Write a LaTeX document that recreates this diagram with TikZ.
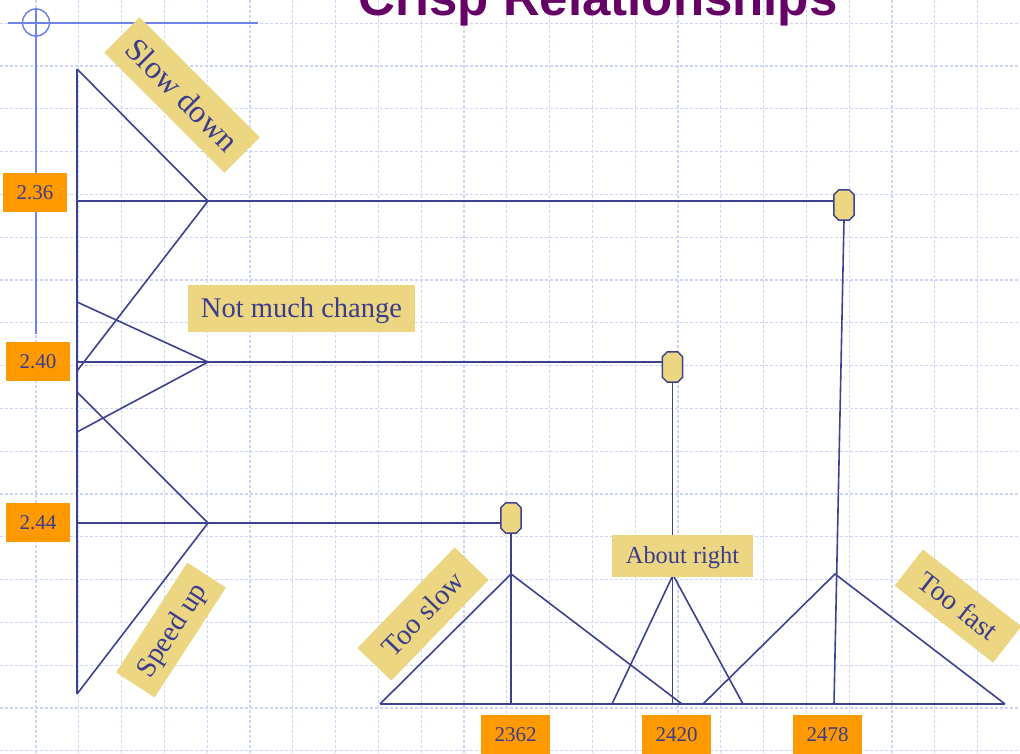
\documentclass[tikz,border=0pt]{standalone}
\usepackage{fontspec}
\setmainfont{Liberation Serif}
\newfontfamily\headfont{Liberation Sans}

\definecolor{gridblue}{RGB}{205,214,250}
\definecolor{crossblue}{RGB}{110,130,240}
\definecolor{lineblue}{RGB}{60,66,145}
\definecolor{textblue}{RGB}{60,60,140}
\definecolor{tagyellow}{RGB}{236,214,130}
\definecolor{valorange}{RGB}{255,153,0}
\definecolor{headpurple}{RGB}{102,0,102}

\begin{document}
\begin{tikzpicture}[
  x=1pt,y=-1pt,
  gridline/.style={draw=gridblue,line width=1.3pt,dash pattern=on 3pt off 2pt},
  crossline/.style={draw=crossblue,line width=1.7pt},
  axisline/.style={draw=lineblue,line width=2pt},
  mf/.style={draw=lineblue,line width=1.6pt},
  tag/.style={fill=tagyellow,text=textblue,inner sep=0pt,minimum height=47pt,
    text height=18.8pt,text depth=0pt,font=\fontsize{28.5}{30}\selectfont},
  valbox/.style={fill=valorange,text=textblue,inner sep=0pt,minimum width=64pt,
    minimum height=39pt,text height=13.9pt,text depth=0pt,font=\fontsize{21}{23}\selectfont},
  joint/.style={inner sep=0pt,minimum width=20pt,minimum height=30pt},
  jointline/.style={draw=lineblue,line width=1.5pt,fill=tagyellow}
]
  \useasboundingbox (0,0) rectangle (1020,753);
  \clip (0,0) rectangle (1020,753);

  % background grid
  \foreach \k in {0,...,23}
    \draw[gridline] (36+42.8*\k,0) -- (36+42.8*\k,753);
  \foreach \k in {0,...,17}
    \draw[gridline] (0,23.2+42.8*\k) -- (1020,23.2+42.8*\k);

  % title, cut at the top
  \node[anchor=base,text=headpurple,font=\headfont\bfseries\fontsize{51}{51}\selectfont]
    (title) at (598,15) {Crisp Relationships};

  % cross mark
  \node[circle,draw=crossblue,line width=1.5pt,minimum size=27pt,inner sep=0pt] (cross) at (36,22.5) {};
  \coordinate (crossL) at (8,23);
  \coordinate (crossR) at (258,23);
  \coordinate (crossD) at (36,334);
  \draw[crossline] (crossL) -- (crossR);
  \draw[crossline] (cross.north) -- (crossD);

  % axes
  \coordinate (vtop) at (77,69);
  \coordinate (vbot) at (77,694);
  \coordinate (hleft) at (380,704);
  \coordinate (hright) at (1005,704);
  \draw[axisline] (vtop) -- (vbot);
  \draw[axisline] (hleft) -- (hright);

  % output sets
  \coordinate (slowA) at (77,69);  \coordinate (slowP) at (208,201); \coordinate (slowB) at (77,371);
  \coordinate (keepA) at (77,302); \coordinate (keepP) at (208,362); \coordinate (keepB) at (77,432);
  \coordinate (fastA) at (77,392); \coordinate (fastP) at (208,523); \coordinate (fastB) at (77,694);
  \draw[mf] (slowA) -- (slowP) -- (slowB);
  \draw[mf] (keepA) -- (keepP) -- (keepB);
  \draw[mf] (fastA) -- (fastP) -- (fastB);

  % input sets
  \coordinate (lowA) at (380,704);  \coordinate (lowP) at (511,574);  \coordinate (lowB) at (682,704);
  \coordinate (okA) at (612,704);   \coordinate (okP) at (673,575);   \coordinate (okB) at (743,704);
  \coordinate (highA) at (703,704); \coordinate (highP) at (835,574); \coordinate (highB) at (1005,704);
  \draw[mf] (lowA) -- (lowP) -- (lowB);
  \draw[mf] (okA) -- (okP) -- (okB);
  \draw[mf] (highA) -- (highP) -- (highB);

  % rules
  \node[joint] (jHigh) at (844,205) {};
  \node[joint] (jOk) at (672.5,367) {};
  \node[joint] (jLow) at (511,518) {};
  \coordinate (highFoot) at (834,704);
  \draw[axisline] (vtop |- slowP) -- (slowP -| jHigh.west);
  \draw[axisline] (vtop |- keepP) -- (keepP -| jOk.west);
  \draw[axisline] (vtop |- fastP) -- (fastP -| jLow.west);
  \draw[mf] (jHigh.south) -- (highFoot);
  \draw[mf] (jOk.south) -- (jOk.south |- hleft);
  \draw[mf] (jLow.south) -- (jLow.south |- hleft);
  \foreach \j in {jHigh,jOk,jLow}
    \draw[jointline] ([xshift=5pt]\j.north west) -- ([xshift=-5pt]\j.north east)
      -- ([yshift=-5pt]\j.north east) -- ([yshift=5pt]\j.south east)
      -- ([xshift=-5pt]\j.south east) -- ([xshift=5pt]\j.south west)
      -- ([yshift=5pt]\j.south west) -- ([yshift=-5pt]\j.north west) -- cycle;

  % set names
  \node[tag,minimum width=170pt,minimum height=50pt,rotate=-45,text height=21pt,
    font=\fontsize{32}{34}\selectfont] (slowtag) at (182,95) {Slow down};
  \node[tag,minimum width=227pt] (keeptag) at (301.5,308) {Not much change};
  \node[tag,minimum width=131pt,minimum height=46pt,rotate=57] (fasttag) at (171,630) {Speed up};
  \node[tag,minimum width=140pt,rotate=46] (lowtag) at (423,614) {Too slow};
  \node[tag,minimum width=141pt,minimum height=42pt,text height=16.1pt,
    font=\fontsize{24.4}{26}\selectfont] (oktag) at (682.5,555.5) {About right};
  \node[tag,minimum width=125pt,minimum height=46pt,rotate=-38] (hightag) at (958,606) {Too fast};

  % crisp values
  \node[valbox] (v236) at (35,192.5) {2.36};
  \node[valbox] (v240) at (38,361.5) {2.40};
  \node[valbox] (v244) at (38,522.5) {2.44};
  \node[valbox,minimum width=69pt] (v2362) at (515.5,734.5) {2362};
  \node[valbox,minimum width=69pt] (v2420) at (676.5,734.5) {2420};
  \node[valbox,minimum width=69pt] (v2478) at (827.5,734.5) {2478};
\end{tikzpicture}
\end{document}
